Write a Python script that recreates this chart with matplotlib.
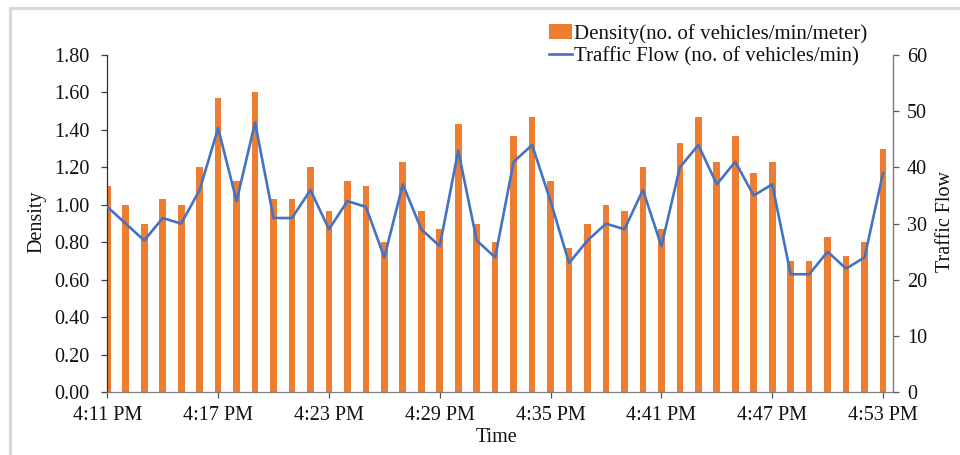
import matplotlib
matplotlib.use("Agg")
import matplotlib.pyplot as plt
from matplotlib.lines import Line2D
import numpy as np

times = ["4:11 PM", "4:12 PM", "4:13 PM", "4:14 PM", "4:15 PM", "4:16 PM", "4:17 PM",
         "4:18 PM", "4:19 PM", "4:20 PM", "4:21 PM", "4:22 PM", "4:23 PM", "4:24 PM",
         "4:25 PM", "4:26 PM", "4:27 PM", "4:28 PM", "4:29 PM", "4:30 PM", "4:31 PM",
         "4:32 PM", "4:33 PM", "4:34 PM", "4:35 PM", "4:36 PM", "4:37 PM", "4:38 PM",
         "4:39 PM", "4:40 PM", "4:41 PM", "4:42 PM", "4:43 PM", "4:44 PM", "4:45 PM",
         "4:46 PM", "4:47 PM", "4:48 PM", "4:49 PM", "4:50 PM", "4:51 PM", "4:52 PM",
         "4:53 PM"]

density = [1.10, 1.00, 0.90, 1.03, 1.00, 1.20, 1.57, 1.13, 1.60, 1.03,
           1.03, 1.20, 0.97, 1.13, 1.10, 0.80, 1.23, 0.97, 0.87, 1.43,
           0.90, 0.80, 1.37, 1.47, 1.13, 0.77, 0.90, 1.00, 0.97, 1.20,
           0.87, 1.33, 1.47, 1.23, 1.37, 1.17, 1.23, 0.70, 0.70, 0.83,
           0.73, 0.80, 1.30]

flow = [33, 30, 27, 31, 30, 36, 47, 34, 48, 31,
        31, 36, 29, 34, 33, 24, 37, 29, 26, 43,
        27, 24, 41, 44, 34, 23, 27, 30, 29, 36,
        26, 40, 44, 37, 41, 35, 37, 21, 21, 25,
        22, 24, 39]

xtick_labels = ["4:11 PM", "4:17 PM", "4:23 PM", "4:29 PM", "4:35 PM", "4:41 PM", "4:47 PM", "4:53 PM"]
density_ticks = [0.0, 0.2, 0.4, 0.6, 0.8, 1.0, 1.2, 1.4, 1.6, 1.8]
flow_ticks = [0, 10, 20, 30, 40, 50, 60]

FONT = "Liberation Serif"
plt.rcParams["font.family"] = [FONT, "DejaVu Serif"]

ORANGE = "#ED7D31"
BLUE = "#4472C4"

fig = plt.figure(figsize=(9.6, 4.55), dpi=100)
ax = fig.add_axes([107.3 / 960, 1 - 392.3 / 455, (893 - 107.3) / 960, (392.3 - 55) / 455])
ax2 = ax.twinx()

x = np.arange(len(times))
bars = ax.bar(x, density, width=0.36, color=ORANGE, zorder=2,
              label="Density(no. of vehicles/min/meter)")
line, = ax2.plot(x, flow, color=BLUE, lw=1.9, zorder=3,
                 label="Traffic Flow (no. of vehicles/min)")

ax.set_xlim(0, 42.54)
ax.set_ylim(0, 1.8)
ax2.set_ylim(0, 60)

ax.set_yticks(density_ticks)
ax.set_yticklabels([f"{v:.2f}" for v in density_ticks])
ax2.set_yticks(flow_ticks)
ax2.set_yticklabels([str(v) for v in flow_ticks])
tick_pos = [times.index(t) for t in xtick_labels]
ax.set_xticks(tick_pos)
ax.set_xticklabels(xtick_labels)

fs = 14.5
ax.tick_params(axis="y", direction="out", length=4, width=0.9, color="#404040",
               labelsize=fs, pad=9, labelcolor="#111111")
ax.tick_params(axis="x", direction="out", length=4, width=0.9, color="#555555",
               labelsize=fs, pad=6, labelcolor="#111111")
ax2.tick_params(axis="y", direction="out", length=4, width=0.9, color="#555555",
                labelsize=fs, pad=6, labelcolor="#111111")

for a in (ax, ax2):
    a.spines["top"].set_visible(False)
ax.spines["left"].set_color("#303030")
ax.spines["bottom"].set_color("#7f7f7f")
ax2.spines["right"].set_color("#7f7f7f")
ax2.spines["left"].set_visible(False)
ax2.spines["bottom"].set_visible(False)
for s in ("left", "bottom"):
    ax.spines[s].set_linewidth(0.9)
ax2.spines["right"].set_linewidth(0.9)

fig.text(37 / 960, 1 - 222 / 455, "Density", rotation=90, ha="center", va="center",
         fontsize=fs, color="#111111")
fig.text(946 / 960, 1 - 222 / 455, "Traffic Flow", rotation=90, ha="center", va="center",
         fontsize=fs, color="#111111")
fig.text(497 / 960, 1 - 438 / 455, "Time", ha="center", va="center",
         fontsize=fs, color="#111111")

leg = fig.legend(handles=[bars, line], loc="upper left",
                 bbox_to_anchor=(549 / 960, 1 - 24 / 455), frameon=False,
                 fontsize=15, handlelength=1.1, handletextpad=0.1,
                 labelspacing=0.12, borderaxespad=0, borderpad=0)
for t in leg.get_texts():
    t.set_color("#111111")

# light outer frame (top and left edges)
fig.add_artist(Line2D([9.5 / 960, 9.5 / 960], [0, 1 - 8 / 455], transform=fig.transFigure,
                      color="#d9d9d9", lw=2.2))
fig.add_artist(Line2D([9.5 / 960, 1], [1 - 8 / 455, 1 - 8 / 455], transform=fig.transFigure,
                      color="#d9d9d9", lw=2.2))

fig.savefig("out.png", dpi=100)
